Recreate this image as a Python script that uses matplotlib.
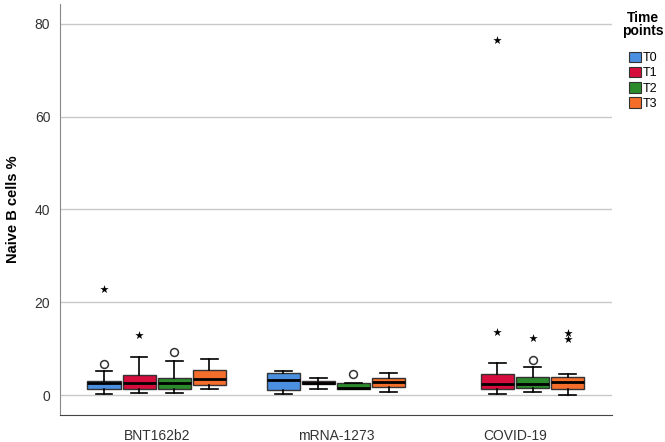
import matplotlib
matplotlib.use("Agg")
import matplotlib.pyplot as plt
from matplotlib.patches import Patch

plt.rcParams["font.family"] = ["Liberation Sans", "DejaVu Sans"]

# groups and time points
groups = ["BNT162b2", "mRNA-1273", "COVID-19"]
timepoints = ["T0", "T1", "T2", "T3"]
colors = ["#4a8fe0", "#d50c3c", "#2b8a2b", "#f46d2b"]

# box statistics per group, per time point: (whislo, q1, med, q3, whishi)
# None = no data for that time point
stats = {
    "BNT162b2": [(0.2, 1.3, 2.5, 3.1, 5.2),
                 (0.5, 1.4, 2.5, 4.3, 8.3),
                 (0.5, 1.3, 2.5, 3.7, 7.4),
                 (1.4, 2.2, 3.4, 5.5, 7.8)],
    "mRNA-1273": [(0.15, 1.1, 3.2, 4.7, 5.2),
                  (1.3, 2.3, 2.65, 3.0, 3.7),
                  (1.3, 1.4, 1.5, 2.5, 2.5),
                  (0.7, 1.8, 2.9, 3.7, 4.7)],
    "COVID-19": [None,
                 (0.2, 1.2, 2.4, 4.5, 7.0),
                 (0.7, 1.6, 2.3, 3.8, 6.1),
                 (0.0, 1.4, 2.9, 3.8, 4.5)],
}

# outliers (circles) and extreme values (stars)
outliers = {
    "BNT162b2": [[6.6], [], [9.3], []],
    "mRNA-1273": [[], [], [4.5], []],
    "COVID-19": [[], [], [7.5], []],
}
extremes = {
    "BNT162b2": [[22.8], [13.0], [], []],
    "mRNA-1273": [[], [], [], []],
    "COVID-19": [[], [13.6, 76.5], [12.4], [13.3, 12.0]],
}

fig = plt.figure(figsize=(6.65, 4.42), dpi=100)
ax = fig.add_axes([0.0902, 0.0611, 0.8298, 0.9299])

step = 0.196
width = 0.185
for gi, g in enumerate(groups):
    for ti in range(len(timepoints)):
        pos = gi + (ti - 1.5) * step
        s = stats[g][ti]
        if s is not None:
            lo, q1, med, q3, hi = s
            ax.bxp([dict(med=med, q1=q1, q3=q3, whislo=lo, whishi=hi, fliers=[])],
                   positions=[pos], widths=width, patch_artist=True,
                   showfliers=False,
                   boxprops=dict(facecolor=colors[ti], edgecolor="#333333", linewidth=1.0),
                   medianprops=dict(color="black", linewidth=2.0),
                   whiskerprops=dict(color="black", linewidth=1.2),
                   capprops=dict(color="black", linewidth=1.2),
                   capwidths=width * 0.5, manage_ticks=False, zorder=3)
        if outliers[g][ti]:
            ax.scatter([pos] * len(outliers[g][ti]), outliers[g][ti], s=32,
                       facecolors="white", edgecolors="#333333", linewidths=1.1, zorder=4)
        if extremes[g][ti]:
            ax.scatter([pos] * len(extremes[g][ti]), extremes[g][ti], s=40,
                       marker="*", color="black", linewidths=0, zorder=4)

ax.set_xlim(-0.54, 2.54)
ax.set_ylim(-4.3, 84.3)
ax.set_yticks([0, 20, 40, 60, 80])
ax.set_xticks(range(len(groups)))
ax.set_xticklabels(groups)
ax.tick_params(axis="both", length=0, labelsize=10, colors="#333333")
ax.tick_params(axis="x", pad=10)
ax.tick_params(axis="y", pad=7)
ax.grid(axis="y", color="#c8c8c8", linewidth=1.0, zorder=0)
ax.set_axisbelow(True)

for side in ["top", "right"]:
    ax.spines[side].set_visible(False)
ax.spines["left"].set_color("#888888")
ax.spines["bottom"].set_color("#444444")

ax.set_ylabel("Naive B cells %", fontsize=10.5, fontweight="bold")
ax.yaxis.set_label_coords(-0.072, 0.5)

# legend title drawn separately so it sits centred above the entries
fig.text(0.967, 0.975, "Time\npoints", ha="center", va="top", fontsize=10,
         fontweight="bold", linespacing=0.95, multialignment="center")
handles = [Patch(facecolor=c, edgecolor="#333333", linewidth=0.8) for c in colors]
leg = fig.legend(handles, timepoints, loc="upper left", bbox_to_anchor=(0.935, 0.9),
                 frameon=False, fontsize=9,
                 handlelength=0.9, handleheight=0.9, handletextpad=0.2,
                 labelspacing=0.22, borderpad=0.1)

fig.savefig("out.png", dpi=100)
